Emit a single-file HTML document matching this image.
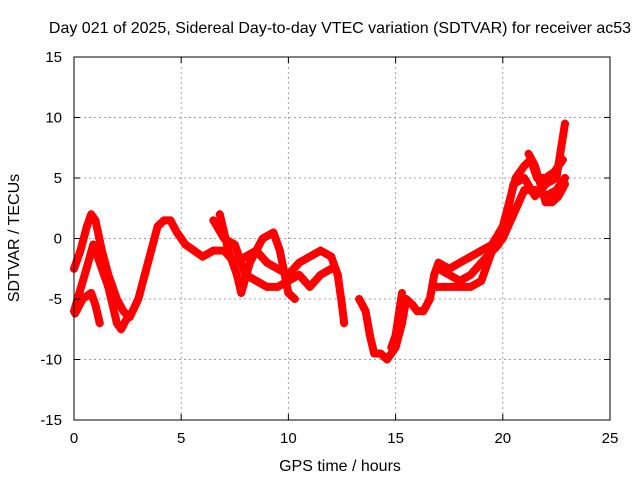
<!DOCTYPE html>
<html><head><meta charset="utf-8"><style>
body{margin:0;background:#fff;}
svg text{font-family:"Liberation Sans",sans-serif;font-size:15px;fill:#000;}
svg text.big{font-size:16px;}
</style></head><body>
<svg id="chart" width="640" height="480">
<rect width="640" height="480" fill="#fff"/>
<g id="grid"></g><g id="marks"></g><g id="axes"></g>
<text class="big" x="340" y="33" text-anchor="middle">Day 021 of 2025, Sidereal Day-to-day VTEC variation (SDTVAR) for receiver ac53</text>
<text class="big" x="340" y="471" text-anchor="middle">GPS time / hours</text>
<text class="big" x="19" y="238" text-anchor="middle" transform="rotate(-90 19 238)">SDTVAR / TECUs</text>
</svg>
<script>
const xTicks=[0,5,10,15,20,25];
const yTicks=[-15,-10,-5,0,5,10,15];
const trackA_t=[0,0.3,0.6,0.8,1.0,1.3,1.6,2.0,2.3,2.6,3.0,3.3,3.6,3.9,4.2,4.5,4.8,5.2,5.6,6,6.5,7,7.5,8,8.5,9,9.5,10,10.5,11,11.5,12,12.3,12.5,12.6];
const trackA_v=[-2.5,-1,1,2,1.5,-1,-3,-5,-6,-6.5,-5,-3,-1,1,1.5,1.5,0.5,-0.5,-1,-1.5,-1,-1,-2,-1.5,-1,-2,-2.5,-3,-2,-1.5,-1,-1.5,-3,-5.5,-7];
const trackB_t=[0,0.5,0.9,1.2,1.6,2.0,2.2,2.5];
const trackB_v=[-6,-3,-0.5,-2,-4,-7,-7.5,-6.5];
const trackC_t=[0.05,0.4,0.8,1.0,1.2];
const trackC_v=[-6.2,-5,-4.5,-5.5,-7];
const trackD_t=[6.5,7,7.5,8,8.5,9,9.5,10,10.5,11,11.5,12];
const trackD_v=[1.5,0,-0.5,-3,-3.5,-4,-4,-3.5,-3,-4,-3,-2.5];
const trackE_t=[6.8,7.2,7.6,7.8,8.2,8.8,9.3,9.6,10,10.3];
const trackE_v=[2,-1,-3,-4.5,-2,0,0.5,-1,-4.5,-5];
const trackI_t=[13.3,13.6,13.8,14,14.3,14.6,14.8,15,15.3,15.5,15.8,16,16.3,16.6,16.8,17,17.5,18,18.5,19,19.5,20,20.3,20.6,21,21.3,21.6,22,22.4,22.8];
const trackI_v=[-5,-6,-8,-9.5,-9.5,-10,-9.5,-9,-7,-5,-5.5,-6,-6,-5,-3,-2,-2.5,-2,-1.5,-1,-0.5,1,3,5,6,6.5,5,5,5.5,6.5];
const trackF_t=[16.8,17.3,18,18.5,19,19.5,20,20.5,21,21.5,22,22.5,22.9];
const trackF_v=[-4,-4,-4,-4,-3.5,-1,0,2,4,4,3.5,4,5];
const trackG_t=[17,17.5,18,18.5,19,19.8,20.2,20.5,21,21.5,22,22.5,22.9];
const trackG_v=[-2.5,-3,-3.5,-3,-2,-0.5,2,4.5,5,3.5,4.5,5,9.5];
const trackH_t=[21.2,21.5,22,22.3,22.6,22.9];
const trackH_v=[7,6,3,3,3.5,4.5];
const trackJ_t=[14.8,15.0,15.3];
const trackJ_v=[-9,-8,-4.5];
const tracks=[[trackA_t,trackA_v],[trackB_t,trackB_v],[trackC_t,trackC_v],[trackD_t,trackD_v],[trackE_t,trackE_v],[trackI_t,trackI_v],[trackF_t,trackF_v],[trackG_t,trackG_v],[trackH_t,trackH_v],[trackJ_t,trackJ_v]];
const NS="http://www.w3.org/2000/svg";
const L=74,R=610,T=57,B=420;
const xs=t=>L+(t-0)/(25-0)*(R-L);
const ys=v=>B-(v+15)/30*(B-T);
function mk(tag,attrs,parent){const e=document.createElementNS(NS,tag);for(const k in attrs)e.setAttribute(k,attrs[k]);parent.appendChild(e);return e;}
const grid=document.getElementById('grid'),axes=document.getElementById('axes'),marks=document.getElementById('marks');
xTicks.forEach(t=>{
 if(t>0&&t<25){const g=mk('line',{x1:xs(t),x2:xs(t),y1:T,y2:B,stroke:'#a0a0a0','stroke-dasharray':'2,3'},grid);
 
 }
 mk('line',{x1:xs(t),x2:xs(t),y1:B,y2:B-6,stroke:'#000'},axes);
 mk('line',{x1:xs(t),x2:xs(t),y1:T,y2:T+6,stroke:'#000'},axes);
 const tx=mk('text',{x:xs(t),y:B+23,'text-anchor':'middle'},axes);tx.textContent=t;
 
 
});
yTicks.forEach(v=>{
 if(v>-15&&v<15){const g=mk('line',{x1:L,x2:R,y1:ys(v),y2:ys(v),stroke:'#a0a0a0','stroke-dasharray':'2,3'},grid);
 
 }
 mk('line',{x1:L,x2:L+6,y1:ys(v),y2:ys(v),stroke:'#000'},axes);
 mk('line',{x1:R,x2:R-6,y1:ys(v),y2:ys(v),stroke:'#000'},axes);
 const tx=mk('text',{x:L-12,y:ys(v)+5,'text-anchor':'end'},axes);tx.textContent=v;
 
 
});
const frame=mk('rect',{x:L,y:T,width:R-L,height:B-T,fill:'none',stroke:'#000'},axes);


tracks.forEach(([tt,vv],i)=>{
 const pts=tt.map((t,j)=>xs(t)+','+ys(vv[j])).join(' ');
 const pl=mk('polyline',{points:pts,fill:'none',stroke:'#ff0000','stroke-width':8,'stroke-linejoin':'round','stroke-linecap':'round'},marks);
 
 
 tt.forEach((t,j)=>{const x=xs(t),y=ys(vv[j]);
  const p=mk('path',{d:`M${x-4} ${y}H${x+4}M${x} ${y-4}V${y+4}`,stroke:'#ff0000','stroke-width':1.5},marks);
  
  
 });
});
</script>
</body></html>
